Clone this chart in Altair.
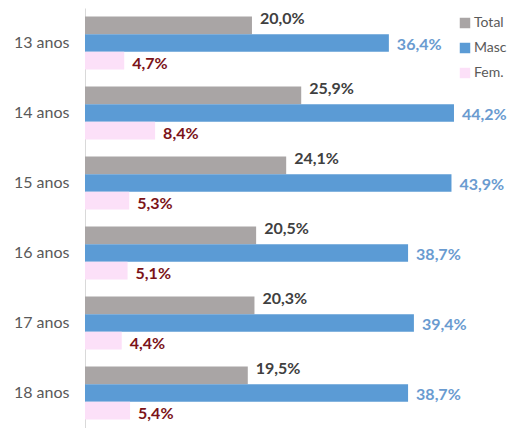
import altair as alt
import pandas as pd

ages = ["13 anos", "14 anos", "15 anos", "16 anos", "17 anos", "18 anos"]
total = [20.0, 25.9, 24.1, 20.5, 20.3, 19.5]
masc = [36.4, 44.2, 43.9, 38.7, 39.4, 38.7]
fem = [4.7, 8.4, 5.3, 5.1, 4.4, 5.4]
series = ["Total", "Masc", "Fem."]
bar_colors = ["#A9A5A5", "#5B9BD5", "#FCE0F8"]
label_colors = ["#404040", "#6A9BD0", "#7B1318"]

rows = []
for i, a in enumerate(ages):
    for s, vals in zip(series, [total, masc, fem]):
        v = vals[i]
        rows.append({"age": a, "series": s, "value": v,
                     "label": f"{v:.1f}".replace(".", ",") + "%"})
df = pd.DataFrame(rows)

font = "Lato"
y = alt.Y("age:N", sort=ages, title=None,
          scale=alt.Scale(paddingInner=0.24, paddingOuter=0.12),
          axis=alt.Axis(ticks=False, labelPadding=16, labelFontSize=16, labelColor="#595959",
                        labelFont=font, domainColor="#D9D9D9", labelFontWeight="normal"))
yoff = alt.YOffset("series:N", sort=series, scale=alt.Scale(paddingInner=0, paddingOuter=0))
x = alt.X("value:Q", scale=alt.Scale(domain=[0, 45.4]), axis=None)

bars = alt.Chart(df).mark_bar(cornerRadius=0).encode(
    y=y, yOffset=yoff, x=x,
    color=alt.Color("series:N", sort=series,
                    scale=alt.Scale(domain=series, range=bar_colors),
                    legend=alt.Legend(title=None, orient="none", legendX=373, legendY=8,
                                      symbolType="square", symbolSize=110,
                                      symbolStrokeWidth=0, labelFontSize=14,
                                      labelFont=font, labelColor="#595959",
                                      rowPadding=11, padding=0, labelOffset=2)),
)

def text_layer(s, color, dy):
    return alt.Chart(df).transform_filter(alt.datum.series == s).mark_text(
        align="left", dx=8, dy=dy, fontSize=16, fontWeight="bold", font=font, color=color
    ).encode(y=y, yOffset=yoff, x=x, text="label:N")

texts = [text_layer("Total", label_colors[0], -6),
         text_layer("Masc", label_colors[1], 2),
         text_layer("Fem.", label_colors[2], 3)]

chart = alt.layer(bars, *texts).properties(
    width=379, height=420,
    autosize=alt.AutoSizeParams(type="none"),
    padding={"left": 77, "top": 0, "right": 45, "bottom": 0},
    background="white",
).configure_view(stroke=None, strokeWidth=0)

chart.save("out.html", embed_options={"renderer": "svg", "actions": False})
